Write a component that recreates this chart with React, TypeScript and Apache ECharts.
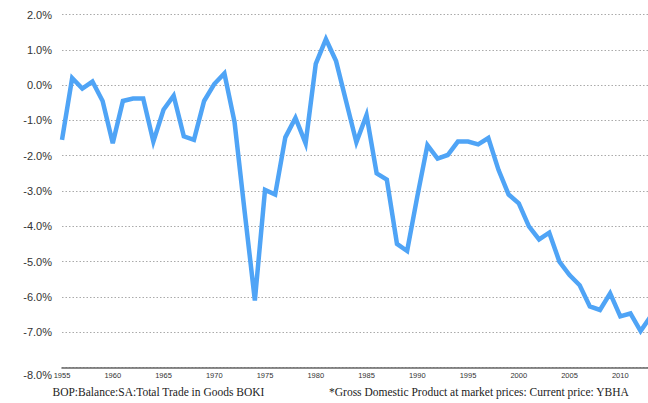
import React, { useEffect, useRef } from "react";
import * as echarts from "echarts";

const years: number[] = [
  1955, 1956, 1957, 1958, 1959, 1960, 1961, 1962, 1963, 1964,
  1965, 1966, 1967, 1968, 1969, 1970, 1971, 1972, 1973, 1974,
  1975, 1976, 1977, 1978, 1979, 1980, 1981, 1982, 1983, 1984,
  1985, 1986, 1987, 1988, 1989, 1990, 1991, 1992, 1993, 1994,
  1995, 1996, 1997, 1998, 1999, 2000, 2001, 2002, 2003, 2004,
  2005, 2006, 2007, 2008, 2009, 2010, 2011, 2012, 2013,
];

const balancePct: number[] = [
  -1.55, 0.2, -0.1, 0.1, -0.45, -1.65, -0.45, -0.38, -0.38, -1.6,
  -0.7, -0.3, -1.45, -1.55, -0.45, 0.03, 0.33, -1.05, -3.6, -6.1,
  -2.97, -3.1, -1.48, -0.93, -1.65, 0.6, 1.3, 0.68, -0.47, -1.62,
  -0.85, -2.5, -2.68, -4.5, -4.7, -3.16, -1.7, -2.08, -1.98, -1.6,
  -1.6, -1.68, -1.5, -2.4, -3.1, -3.35, -4.0, -4.37, -4.18, -5.0,
  -5.38, -5.67, -6.27, -6.37, -5.9, -6.55, -6.47, -6.97, -6.55,
];

const captionLeft = "BOP:Balance:SA:Total Trade in Goods BOKI";
const captionRight = "*Gross Domestic Product at market prices: Current price: YBHA";

export default function App() {
  const ref = useRef<HTMLDivElement>(null);

  useEffect(() => {
    if (!ref.current) return;
    const chart = echarts.init(ref.current, undefined, { renderer: "svg" });
    chart.setOption({
      animation: false,
      backgroundColor: "#ffffff",
      grid: { left: 62, right: 0, top: 14.5, bottom: 35.5 },
      xAxis: {
        type: "value",
        min: 1955,
        max: 2012.73,
        interval: 5,
        axisLine: { show: true, onZero: false, lineStyle: { color: "#666", width: 1.6 } },
        axisTick: { show: false },
        splitLine: { show: false },
        axisLabel: {
          margin: 4,
          fontSize: 7.5,
          color: "#333",
          fontFamily: "Liberation Sans, Arial, sans-serif",
          showMaxLabel: false,
          formatter: (v: number) => (Math.abs(v % 5) < 1e-6 ? String(v) : ""),
        },
      },
      yAxis: {
        type: "value",
        min: -8,
        max: 2,
        interval: 1,
        axisLine: { show: false },
        axisTick: { show: false },
        splitLine: { show: true, lineStyle: { color: "#aaa", width: 1, type: [1.5, 2] } },
        axisLabel: {
          margin: 10,
          fontSize: 11,
          color: "#333",
          fontFamily: "Liberation Sans, Arial, sans-serif",
          formatter: (v: number) =>
            v === -8 ? "{low|" + v.toFixed(1) + "%}" : v.toFixed(1) + "%",
          rich: {
            low: {
              fontSize: 11,
              color: "#333",
              fontFamily: "Liberation Sans, Arial, sans-serif",
              padding: [15, 0, 0, 0],
            },
          },
        },
      },
      series: [
        {
          type: "line",
          data: years.map((y, i) => [y, balancePct[i]]),
          showSymbol: false,
          clip: true,
          lineStyle: { color: "#4fa4f6", width: 4.5, join: "miter" },
        },
      ],
      graphic: [
        {
          type: "text",
          left: 52.5,
          top: 386,
          style: {
            text: captionLeft,
            fontSize: 11.5,
            fontFamily: "Liberation Serif, Times New Roman, serif",
            fill: "#222",
          },
        },
        {
          type: "text",
          left: 329,
          top: 386,
          style: {
            text: captionRight,
            fontSize: 11.5,
            fontFamily: "Liberation Serif, Times New Roman, serif",
            fill: "#222",
          },
        },
      ],
    });
    return () => chart.dispose();
  }, []);

  return (
    <div
      ref={ref}
      style={{ position: "absolute", left: 0, top: 0, width: 648, height: 403 }}
    />
  );
}
